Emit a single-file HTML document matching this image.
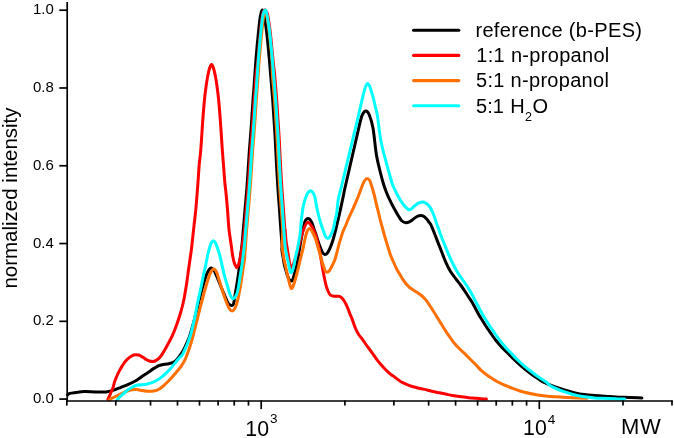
<!DOCTYPE html>
<html><head><meta charset="utf-8"><style>
html,body{margin:0;padding:0;background:#fff;}
body{width:675px;height:438px;overflow:hidden;}
svg{display:block;font-family:"Liberation Sans",sans-serif;will-change:transform;}
</style></head><body>
<svg width="675" height="438" viewBox="0 0 675 438">
<rect width="675" height="438" fill="#fff"/>
<g fill="none" stroke-width="3.0" stroke-linejoin="round" stroke-linecap="round">
<path d="M67.60 394.90C67.98 394.65 68.52 393.80 69.90 393.40C71.28 393.00 73.53 392.80 75.90 392.50C78.27 392.20 80.92 391.70 84.10 391.60C87.28 391.50 91.68 391.82 95.00 391.90C98.32 391.98 101.83 392.15 104.00 392.10C106.17 392.05 106.25 391.97 108.00 391.60C109.75 391.23 112.33 390.62 114.50 389.90C116.67 389.18 118.60 388.27 121.00 387.30C123.40 386.33 126.28 385.28 128.90 384.10C131.52 382.92 134.32 381.62 136.70 380.20C139.08 378.78 141.32 376.88 143.20 375.60C145.08 374.32 146.22 373.70 148.00 372.50C149.78 371.30 151.90 369.62 153.90 368.40C155.90 367.18 157.50 365.98 160.00 365.20C162.50 364.42 166.43 364.32 168.90 363.70C171.37 363.08 173.07 362.73 174.80 361.50C176.53 360.27 177.82 358.28 179.30 356.30C180.78 354.32 182.35 352.07 183.70 349.60C185.05 347.13 186.40 343.77 187.40 341.50C188.40 339.23 188.68 339.08 189.70 336.00C190.72 332.92 192.27 327.48 193.50 323.00C194.73 318.52 195.93 313.77 197.10 309.10C198.27 304.43 199.43 299.18 200.50 295.00C201.57 290.82 202.42 287.58 203.50 284.00C204.58 280.42 205.73 276.17 207.00 273.50C208.27 270.83 209.93 268.50 211.10 268.00C212.27 267.50 213.05 269.08 214.00 270.50C214.95 271.92 215.42 273.28 216.80 276.50C218.18 279.72 220.40 285.35 222.30 289.80C224.20 294.25 226.58 300.60 228.20 303.20C229.82 305.80 231.10 305.33 232.00 305.40C232.90 305.47 233.03 305.67 233.60 303.60C234.17 301.53 234.78 296.68 235.40 293.00C236.02 289.32 236.70 285.33 237.30 281.50C237.90 277.67 238.50 273.92 239.00 270.00C239.50 266.08 239.80 262.17 240.30 258.00C240.80 253.83 241.50 249.67 242.00 245.00C242.50 240.33 242.80 235.83 243.30 230.00C243.80 224.17 244.50 215.83 245.00 210.00C245.50 204.17 245.95 199.17 246.30 195.00C246.65 190.83 246.80 189.17 247.10 185.00C247.40 180.83 247.72 175.83 248.10 170.00C248.48 164.17 248.98 155.83 249.40 150.00C249.82 144.17 250.22 140.00 250.60 135.00C250.98 130.00 251.30 125.83 251.70 120.00C252.10 114.17 252.65 105.00 253.00 100.00C253.35 95.00 253.49 94.17 253.80 90.00C254.11 85.83 254.50 80.00 254.85 75.00C255.20 70.00 255.51 65.00 255.90 60.00C256.29 55.00 256.73 50.00 257.20 45.00C257.67 40.00 258.27 34.17 258.70 30.00C259.13 25.83 259.43 22.75 259.80 20.00C260.17 17.25 260.48 15.15 260.90 13.50C261.32 11.85 261.83 10.10 262.30 10.10C262.77 10.10 263.27 11.85 263.70 13.50C264.13 15.15 264.45 17.25 264.90 20.00C265.35 22.75 265.88 25.83 266.40 30.00C266.92 34.17 267.50 40.00 268.00 45.00C268.50 50.00 268.96 55.00 269.40 60.00C269.84 65.00 270.22 70.00 270.64 75.00C271.05 80.00 271.53 85.83 271.88 90.00C272.22 94.17 272.34 95.00 272.70 100.00C273.06 105.00 273.63 114.17 274.01 120.00C274.40 125.83 274.71 130.00 275.00 135.00C275.29 140.00 275.47 144.17 275.77 150.00C276.07 155.83 276.48 164.17 276.80 170.00C277.12 175.83 277.44 180.83 277.70 185.00C277.96 189.17 278.07 190.83 278.38 195.00C278.68 199.17 279.09 204.17 279.50 210.00C279.91 215.83 280.45 224.17 280.86 230.00C281.28 235.83 281.84 241.67 282.01 245.00C282.18 248.33 281.70 247.83 281.90 250.00C282.10 252.17 282.78 255.50 283.20 258.00C283.62 260.50 283.97 263.00 284.40 265.00C284.83 267.00 285.27 268.17 285.80 270.00C286.33 271.83 287.02 274.40 287.60 276.00C288.18 277.60 288.72 278.75 289.30 279.60C289.88 280.45 290.52 281.15 291.10 281.10C291.68 281.05 292.20 280.68 292.80 279.30C293.40 277.92 294.00 275.32 294.70 272.80C295.40 270.28 295.95 269.67 297.00 264.20C298.05 258.73 299.70 247.03 301.00 240.00C302.30 232.97 303.57 225.58 304.80 222.00C306.03 218.42 307.28 218.50 308.40 218.50C309.52 218.50 310.38 219.73 311.50 222.00C312.62 224.27 313.73 228.13 315.10 232.10C316.47 236.07 318.47 242.40 319.70 245.80C320.93 249.20 321.65 251.07 322.50 252.50C323.35 253.93 323.97 254.32 324.80 254.40C325.63 254.48 326.63 254.05 327.50 253.00C328.37 251.95 329.08 250.27 330.00 248.10C330.92 245.93 332.05 243.05 333.00 240.00C333.95 236.95 334.67 233.97 335.70 229.80C336.73 225.63 338.07 219.97 339.20 215.00C340.33 210.03 341.62 204.17 342.50 200.00C343.38 195.83 343.78 193.33 344.50 190.00C345.22 186.67 346.03 183.33 346.80 180.00C347.57 176.67 348.33 173.33 349.10 170.00C349.87 166.67 350.63 163.33 351.40 160.00C352.17 156.67 352.93 153.33 353.70 150.00C354.47 146.67 355.23 143.33 356.00 140.00C356.77 136.67 357.57 133.17 358.30 130.00C359.03 126.83 359.70 123.58 360.40 121.00C361.10 118.42 361.58 116.15 362.50 114.50C363.42 112.85 364.77 111.02 365.90 111.10C367.03 111.18 368.12 112.18 369.30 115.00C370.48 117.82 371.82 121.38 373.00 128.00C374.18 134.62 375.23 147.53 376.40 154.70C377.57 161.87 378.77 165.95 380.00 171.00C381.23 176.05 382.55 181.00 383.80 185.00C385.05 189.00 386.27 192.03 387.50 195.00C388.73 197.97 389.95 200.30 391.20 202.80C392.45 205.30 393.77 207.77 395.00 210.00C396.23 212.23 397.43 214.37 398.60 216.20C399.77 218.03 400.77 219.90 402.00 221.00C403.23 222.10 404.67 222.72 406.00 222.80C407.33 222.88 408.77 222.12 410.00 221.50C411.23 220.88 412.23 219.93 413.40 219.10C414.57 218.27 415.77 217.12 417.00 216.50C418.23 215.88 419.63 215.40 420.80 215.40C421.97 215.40 423.02 215.88 424.00 216.50C424.98 217.12 425.95 218.27 426.70 219.10C427.45 219.93 427.82 220.57 428.50 221.50C429.18 222.43 429.80 222.70 430.80 224.70C431.80 226.70 433.20 230.27 434.50 233.50C435.80 236.73 437.27 240.68 438.60 244.10C439.93 247.52 441.22 250.78 442.50 254.00C443.78 257.22 444.97 260.48 446.30 263.40C447.63 266.32 448.88 268.90 450.50 271.50C452.12 274.10 454.25 276.67 456.00 279.00C457.75 281.33 459.38 283.25 461.00 285.50C462.62 287.75 464.37 290.50 465.70 292.50C467.03 294.50 467.95 295.92 469.00 297.50C470.05 299.08 470.92 300.17 472.00 302.00C473.08 303.83 474.33 306.33 475.50 308.50C476.67 310.67 477.85 313.00 479.00 315.00C480.15 317.00 481.32 318.75 482.40 320.50C483.48 322.25 484.47 323.92 485.50 325.50C486.53 327.08 487.52 328.42 488.60 330.00C489.68 331.58 490.83 333.33 492.00 335.00C493.17 336.67 494.00 338.00 495.60 340.00C497.20 342.00 499.63 344.87 501.60 347.00C503.57 349.13 505.33 350.72 507.40 352.80C509.47 354.88 511.73 357.33 514.00 359.50C516.27 361.67 518.67 363.80 521.00 365.80C523.33 367.80 525.67 369.68 528.00 371.50C530.33 373.32 532.48 374.95 535.00 376.70C537.52 378.45 540.60 380.65 543.10 382.00C545.60 383.35 547.18 383.73 550.00 384.80C552.82 385.87 556.67 387.28 560.00 388.40C563.33 389.52 566.73 390.58 570.00 391.50C573.27 392.42 575.53 393.25 579.60 393.90C583.67 394.55 589.45 394.98 594.40 395.40C599.35 395.82 604.37 396.08 609.30 396.40C614.23 396.72 618.57 397.05 624.00 397.30C629.43 397.55 638.92 397.80 641.90 397.90" stroke="#000000"/>
<path d="M107.90 399.30C108.32 398.38 109.57 395.68 110.40 393.80C111.23 391.92 112.18 390.05 112.90 388.00C113.62 385.95 114.00 383.58 114.70 381.50C115.40 379.42 116.30 377.32 117.10 375.50C117.90 373.68 118.72 372.08 119.50 370.60C120.28 369.12 120.93 368.00 121.80 366.60C122.67 365.20 123.72 363.48 124.70 362.20C125.68 360.92 126.62 359.90 127.70 358.90C128.78 357.90 130.00 356.90 131.20 356.20C132.40 355.50 133.68 354.90 134.90 354.70C136.12 354.50 137.48 354.75 138.50 355.00C139.52 355.25 140.17 355.77 141.00 356.20C141.83 356.63 142.58 357.00 143.50 357.60C144.42 358.20 145.50 359.23 146.50 359.80C147.50 360.37 148.52 360.72 149.50 361.00C150.48 361.28 151.48 361.50 152.40 361.50C153.32 361.50 154.15 361.33 155.00 361.00C155.85 360.67 156.67 360.13 157.50 359.50C158.33 358.87 159.18 358.13 160.00 357.20C160.82 356.27 161.57 355.18 162.40 353.90C163.23 352.62 164.07 351.15 165.00 349.50C165.93 347.85 166.97 345.92 168.00 344.00C169.03 342.08 170.12 340.25 171.20 338.00C172.28 335.75 173.43 333.17 174.50 330.50C175.57 327.83 176.65 324.75 177.60 322.00C178.55 319.25 179.40 316.67 180.20 314.00C181.00 311.33 181.73 308.67 182.40 306.00C183.07 303.33 183.67 300.67 184.20 298.00C184.73 295.33 185.13 292.83 185.60 290.00C186.07 287.17 186.57 284.00 187.00 281.00C187.43 278.00 187.67 275.83 188.20 272.00C188.73 268.17 189.63 262.00 190.20 258.00C190.77 254.00 190.95 253.53 191.60 248.00C192.25 242.47 193.40 231.18 194.10 224.80C194.80 218.42 195.18 216.33 195.80 209.70C196.42 203.07 197.23 192.45 197.80 185.00C198.37 177.55 198.70 170.88 199.20 165.00C199.70 159.12 200.20 157.20 200.80 149.70C201.40 142.20 202.18 128.37 202.80 120.00C203.42 111.63 203.97 105.00 204.50 99.50C205.03 94.00 205.50 90.70 206.00 87.00C206.50 83.30 206.92 80.38 207.50 77.30C208.08 74.22 208.82 70.62 209.50 68.50C210.18 66.38 210.92 64.60 211.60 64.60C212.28 64.60 212.93 66.38 213.60 68.50C214.27 70.62 215.02 74.22 215.60 77.30C216.18 80.38 216.60 83.30 217.10 87.00C217.60 90.70 218.07 94.00 218.60 99.50C219.13 105.00 219.68 111.63 220.30 120.00C220.92 128.37 221.77 142.20 222.30 149.70C222.83 157.20 223.08 159.62 223.50 165.00C223.92 170.38 224.35 177.00 224.80 182.00C225.25 187.00 225.75 190.38 226.20 195.00C226.65 199.62 227.03 203.98 227.50 209.70C227.97 215.42 228.38 223.42 229.00 229.30C229.62 235.18 230.58 240.55 231.20 245.00C231.82 249.45 232.15 252.92 232.70 256.00C233.25 259.08 233.88 261.65 234.50 263.50C235.12 265.35 236.02 266.45 236.40 267.10C236.78 267.75 236.50 267.70 236.80 267.40C237.10 267.10 237.77 266.28 238.20 265.30C238.63 264.32 239.00 263.05 239.40 261.50C239.80 259.95 240.23 257.92 240.60 256.00C240.97 254.08 240.95 254.33 241.60 250.00C242.25 245.67 243.73 236.67 244.50 230.00C245.27 223.33 245.70 215.83 246.20 210.00C246.70 204.17 247.15 199.17 247.50 195.00C247.85 190.83 248.00 189.17 248.30 185.00C248.60 180.83 248.92 175.83 249.30 170.00C249.68 164.17 250.18 155.83 250.60 150.00C251.02 144.17 251.42 140.00 251.80 135.00C252.18 130.00 252.50 125.83 252.90 120.00C253.30 114.17 253.85 105.00 254.20 100.00C254.55 95.00 254.69 94.17 255.00 90.00C255.31 85.83 255.57 80.00 256.05 75.00C256.53 70.00 257.38 65.00 257.90 60.00C258.42 55.00 258.73 50.00 259.20 45.00C259.67 40.00 260.27 34.17 260.70 30.00C261.13 25.83 261.43 22.75 261.80 20.00C262.17 17.25 262.43 15.15 262.90 13.50C263.37 11.85 263.87 10.10 264.60 10.10C265.33 10.10 266.65 11.85 267.30 13.50C267.95 15.15 268.05 17.25 268.50 20.00C268.95 22.75 269.48 25.83 270.00 30.00C270.52 34.17 271.10 40.00 271.60 45.00C272.10 50.00 272.49 55.00 273.00 60.00C273.51 65.00 274.16 70.00 274.64 75.00C275.12 80.00 275.53 85.83 275.88 90.00C276.22 94.17 276.34 95.00 276.70 100.00C277.06 105.00 277.63 114.17 278.01 120.00C278.40 125.83 278.71 130.00 279.00 135.00C279.29 140.00 279.47 144.17 279.77 150.00C280.07 155.83 280.48 164.17 280.80 170.00C281.12 175.83 281.44 180.83 281.70 185.00C281.96 189.17 282.07 190.83 282.38 195.00C282.68 199.17 283.09 204.17 283.50 210.00C283.91 215.83 284.58 226.67 284.86 230.00C285.15 233.33 285.03 228.33 285.20 230.00C285.37 231.67 285.57 237.00 285.90 240.00C286.23 243.00 286.80 245.50 287.20 248.00C287.60 250.50 287.97 252.83 288.30 255.00C288.63 257.17 288.88 259.17 289.20 261.00C289.52 262.83 289.87 264.87 290.20 266.00C290.53 267.13 290.80 267.80 291.20 267.80C291.60 267.80 292.05 267.13 292.60 266.00C293.15 264.87 293.85 262.83 294.50 261.00C295.15 259.17 295.87 257.17 296.50 255.00C297.13 252.83 297.68 250.42 298.30 248.00C298.92 245.58 299.62 242.67 300.20 240.50C300.78 238.33 301.20 236.92 301.80 235.00C302.40 233.08 303.10 230.83 303.80 229.00C304.50 227.17 305.25 225.10 306.00 224.00C306.75 222.90 307.38 222.07 308.30 222.40C309.22 222.73 310.38 224.18 311.50 226.00C312.62 227.82 314.03 230.80 315.00 233.30C315.97 235.80 316.58 238.35 317.30 241.00C318.02 243.65 318.73 246.53 319.30 249.20C319.87 251.87 320.22 254.20 320.70 257.00C321.18 259.80 321.65 262.83 322.20 266.00C322.75 269.17 323.37 272.82 324.00 276.00C324.63 279.18 325.33 282.60 326.00 285.10C326.67 287.60 327.32 289.40 328.00 291.00C328.68 292.60 329.27 293.87 330.10 294.70C330.93 295.53 332.10 295.73 333.00 296.00C333.90 296.27 334.58 296.25 335.50 296.30C336.42 296.35 337.58 296.15 338.50 296.30C339.42 296.45 340.17 296.62 341.00 297.20C341.83 297.78 342.75 298.80 343.50 299.80C344.25 300.80 344.83 301.92 345.50 303.20C346.17 304.48 346.77 305.72 347.50 307.50C348.23 309.28 349.17 312.08 349.90 313.90C350.63 315.72 351.22 316.63 351.90 318.40C352.58 320.17 353.27 322.53 354.00 324.50C354.73 326.47 355.47 328.45 356.30 330.20C357.13 331.95 358.00 333.52 359.00 335.00C360.00 336.48 361.13 337.52 362.30 339.10C363.47 340.68 364.77 342.77 366.00 344.50C367.23 346.23 368.45 347.78 369.70 349.50C370.95 351.22 372.27 353.07 373.50 354.80C374.73 356.53 375.93 358.37 377.10 359.90C378.27 361.43 379.35 362.65 380.50 364.00C381.65 365.35 382.85 366.78 384.00 368.00C385.15 369.22 386.23 370.22 387.40 371.30C388.57 372.38 389.77 373.52 391.00 374.50C392.23 375.48 393.55 376.28 394.80 377.20C396.05 378.12 397.27 379.13 398.50 380.00C399.73 380.87 400.35 381.47 402.20 382.40C404.05 383.33 407.13 384.72 409.60 385.60C412.07 386.48 414.53 387.07 417.00 387.70C419.47 388.33 421.93 388.82 424.40 389.40C426.87 389.98 429.32 390.63 431.80 391.20C434.28 391.77 436.82 392.28 439.30 392.80C441.78 393.32 444.23 393.82 446.70 394.30C449.17 394.78 451.63 395.28 454.10 395.70C456.57 396.12 459.03 396.47 461.50 396.80C463.97 397.13 466.68 397.47 468.90 397.70C471.12 397.93 472.87 398.03 474.80 398.20C476.73 398.37 478.57 398.55 480.50 398.70C482.43 398.85 485.42 399.03 486.40 399.10" stroke="#ff0000"/>
<path d="M109.30 399.70C109.83 399.42 111.42 398.55 112.50 398.00C113.58 397.45 114.63 396.97 115.80 396.40C116.97 395.83 118.20 395.25 119.50 394.60C120.80 393.95 122.27 393.10 123.60 392.50C124.93 391.90 126.18 391.43 127.50 391.00C128.82 390.57 130.32 390.15 131.50 389.90C132.68 389.65 133.68 389.58 134.60 389.50C135.52 389.42 136.10 389.28 137.00 389.40C137.90 389.52 138.67 389.95 140.00 390.20C141.33 390.45 143.58 390.73 145.00 390.90C146.42 391.07 147.35 391.13 148.50 391.20C149.65 391.27 150.82 391.37 151.90 391.30C152.98 391.23 154.02 391.05 155.00 390.80C155.98 390.55 156.83 390.27 157.80 389.80C158.77 389.33 159.82 388.70 160.80 388.00C161.78 387.30 162.62 386.57 163.70 385.60C164.78 384.63 166.10 383.38 167.30 382.20C168.50 381.02 169.62 379.90 170.90 378.50C172.18 377.10 173.62 375.42 175.00 373.80C176.38 372.18 178.00 370.33 179.20 368.80C180.40 367.27 181.20 366.18 182.20 364.60C183.20 363.02 184.13 361.65 185.20 359.30C186.27 356.95 187.68 353.05 188.60 350.50C189.52 347.95 190.05 346.08 190.70 344.00C191.35 341.92 191.87 340.33 192.50 338.00C193.13 335.67 193.88 332.42 194.50 330.00C195.12 327.58 195.57 326.00 196.20 323.50C196.83 321.00 197.63 317.67 198.30 315.00C198.97 312.33 199.55 310.00 200.20 307.50C200.85 305.00 201.48 302.70 202.20 300.00C202.92 297.30 203.78 293.88 204.50 291.30C205.22 288.72 205.83 286.72 206.50 284.50C207.17 282.28 207.82 280.00 208.50 278.00C209.18 276.00 209.77 274.00 210.60 272.50C211.43 271.00 212.55 269.17 213.50 269.00C214.45 268.83 215.47 270.00 216.30 271.50C217.13 273.00 217.75 275.67 218.50 278.00C219.25 280.33 219.97 282.83 220.80 285.50C221.63 288.17 222.50 291.05 223.50 294.00C224.50 296.95 225.80 300.70 226.80 303.20C227.80 305.70 228.60 307.72 229.50 309.00C230.40 310.28 231.37 310.90 232.20 310.90C233.03 310.90 233.78 310.07 234.50 309.00C235.22 307.93 235.95 306.08 236.50 304.50C237.05 302.92 237.38 301.25 237.80 299.50C238.22 297.75 238.62 295.92 239.00 294.00C239.38 292.08 239.72 290.17 240.10 288.00C240.48 285.83 240.90 283.50 241.30 281.00C241.70 278.50 242.12 275.67 242.50 273.00C242.88 270.33 243.25 267.50 243.60 265.00C243.95 262.50 244.10 263.83 244.60 258.00C245.10 252.17 245.98 238.00 246.60 230.00C247.22 222.00 247.80 215.83 248.30 210.00C248.80 204.17 249.25 199.17 249.60 195.00C249.95 190.83 250.10 189.17 250.40 185.00C250.70 180.83 251.02 175.83 251.40 170.00C251.78 164.17 252.28 155.83 252.70 150.00C253.12 144.17 253.52 140.00 253.90 135.00C254.28 130.00 254.60 125.83 255.00 120.00C255.40 114.17 255.95 105.00 256.30 100.00C256.65 95.00 256.79 94.17 257.10 90.00C257.41 85.83 257.80 80.00 258.15 75.00C258.50 70.00 258.81 65.00 259.20 60.00C259.59 55.00 260.03 50.00 260.50 45.00C260.97 40.00 261.57 34.17 262.00 30.00C262.43 25.83 262.73 22.75 263.10 20.00C263.47 17.25 263.82 15.15 264.20 13.50C264.58 11.85 265.05 10.10 265.40 10.10C265.75 10.10 265.95 11.85 266.30 13.50C266.65 15.15 267.05 17.25 267.50 20.00C267.95 22.75 268.48 25.83 269.00 30.00C269.52 34.17 270.10 40.00 270.60 45.00C271.10 50.00 271.69 55.00 272.00 60.00C272.31 65.00 272.16 70.00 272.44 75.00C272.72 80.00 273.33 85.83 273.68 90.00C274.02 94.17 274.14 95.00 274.50 100.00C274.86 105.00 275.43 114.17 275.81 120.00C276.20 125.83 276.51 130.00 276.80 135.00C277.09 140.00 277.27 144.17 277.57 150.00C277.87 155.83 278.28 164.17 278.60 170.00C278.92 175.83 279.24 180.83 279.50 185.00C279.76 189.17 279.88 190.83 280.18 195.00C280.48 199.17 280.89 204.17 281.30 210.00C281.71 215.83 282.51 224.17 282.66 230.00C282.81 235.83 282.09 240.83 282.20 245.00C282.31 249.17 282.90 252.17 283.30 255.00C283.70 257.83 284.15 259.78 284.60 262.00C285.05 264.22 285.52 266.13 286.00 268.30C286.48 270.47 287.00 272.80 287.50 275.00C288.00 277.20 288.55 279.67 289.00 281.50C289.45 283.33 289.82 284.82 290.20 286.00C290.58 287.18 290.87 288.43 291.30 288.60C291.73 288.77 292.27 288.10 292.80 287.00C293.33 285.90 293.93 283.82 294.50 282.00C295.07 280.18 295.62 278.27 296.20 276.10C296.78 273.93 297.43 271.28 298.00 269.00C298.57 266.72 299.05 264.65 299.60 262.40C300.15 260.15 300.73 257.78 301.30 255.50C301.87 253.22 302.48 250.98 303.00 248.70C303.52 246.42 303.93 244.00 304.40 241.80C304.87 239.60 305.27 237.42 305.80 235.50C306.33 233.58 307.00 231.47 307.60 230.30C308.20 229.13 308.75 228.47 309.40 228.50C310.05 228.53 310.57 229.00 311.50 230.50C312.43 232.00 314.00 235.00 315.00 237.50C316.00 240.00 316.62 242.58 317.50 245.50C318.38 248.42 319.50 252.17 320.30 255.00C321.10 257.83 321.67 260.33 322.30 262.50C322.93 264.67 323.57 266.53 324.10 268.00C324.63 269.47 324.97 270.62 325.50 271.30C326.03 271.98 326.63 272.23 327.30 272.10C327.97 271.97 328.80 271.35 329.50 270.50C330.20 269.65 330.65 268.67 331.50 267.00C332.35 265.33 333.72 262.83 334.60 260.50C335.48 258.17 336.05 255.75 336.80 253.00C337.55 250.25 338.37 246.67 339.10 244.00C339.83 241.33 340.52 239.17 341.20 237.00C341.88 234.83 342.48 232.83 343.20 231.00C343.92 229.17 344.67 227.98 345.50 226.00C346.33 224.02 347.20 221.43 348.20 219.10C349.20 216.77 350.27 214.72 351.50 212.00C352.73 209.28 354.35 205.72 355.60 202.80C356.85 199.88 357.88 197.38 359.00 194.50C360.12 191.62 361.35 187.83 362.30 185.50C363.25 183.17 363.88 181.68 364.70 180.50C365.52 179.32 366.38 178.43 367.20 178.40C368.02 178.37 368.88 179.12 369.60 180.30C370.32 181.48 370.77 183.22 371.50 185.50C372.23 187.78 373.18 190.87 374.00 194.00C374.82 197.13 375.62 201.05 376.40 204.30C377.18 207.55 377.97 210.53 378.70 213.50C379.43 216.47 380.08 219.35 380.80 222.10C381.52 224.85 382.27 227.35 383.00 230.00C383.73 232.65 384.45 235.42 385.20 238.00C385.95 240.58 386.63 242.70 387.50 245.50C388.37 248.30 389.40 252.05 390.40 254.80C391.40 257.55 392.52 259.77 393.50 262.00C394.48 264.23 395.33 266.28 396.30 268.20C397.27 270.12 398.30 271.77 399.30 273.50C400.30 275.23 401.22 276.93 402.30 278.60C403.38 280.27 404.57 282.02 405.80 283.50C407.03 284.98 408.33 286.33 409.70 287.50C411.07 288.67 412.52 289.52 414.00 290.50C415.48 291.48 417.35 292.57 418.60 293.40C419.85 294.23 420.52 294.65 421.50 295.50C422.48 296.35 423.50 297.38 424.50 298.50C425.50 299.62 426.27 300.47 427.50 302.20C428.73 303.93 430.57 306.85 431.90 308.90C433.23 310.95 434.27 312.52 435.50 314.50C436.73 316.48 438.05 318.75 439.30 320.80C440.55 322.85 441.77 324.83 443.00 326.80C444.23 328.77 445.45 330.73 446.70 332.60C447.95 334.47 449.27 336.27 450.50 338.00C451.73 339.73 452.68 341.28 454.10 343.00C455.52 344.72 457.27 346.57 459.00 348.30C460.73 350.03 462.75 351.70 464.50 353.40C466.25 355.10 467.65 356.65 469.50 358.50C471.35 360.35 473.48 362.35 475.60 364.50C477.72 366.65 479.88 369.35 482.20 371.40C484.52 373.45 487.03 375.12 489.50 376.80C491.97 378.48 494.50 380.10 497.00 381.50C499.50 382.90 502.02 384.10 504.50 385.20C506.98 386.30 509.43 387.18 511.90 388.10C514.37 389.02 516.83 389.93 519.30 390.70C521.77 391.47 524.25 392.10 526.70 392.70C529.15 393.30 531.53 393.83 534.00 394.30C536.47 394.77 538.83 395.15 541.50 395.50C544.17 395.85 546.92 396.13 550.00 396.40C553.08 396.67 556.17 396.87 560.00 397.10C563.83 397.33 568.50 397.60 573.00 397.80C577.50 398.00 584.67 398.22 587.00 398.30" stroke="#ff7000"/>
<path d="M117.40 399.70C117.70 399.35 118.60 398.25 119.20 397.60C119.80 396.95 120.25 396.52 121.00 395.80C121.75 395.08 122.82 394.07 123.70 393.30C124.58 392.53 125.33 391.95 126.30 391.20C127.27 390.45 128.42 389.53 129.50 388.80C130.58 388.07 131.72 387.35 132.80 386.80C133.88 386.25 134.92 385.83 136.00 385.50C137.08 385.17 138.63 384.88 139.30 384.80C139.97 384.72 139.05 385.07 140.00 385.00C140.95 384.93 143.58 384.63 145.00 384.40C146.42 384.17 147.35 383.90 148.50 383.60C149.65 383.30 150.73 383.02 151.90 382.60C153.07 382.18 154.32 381.68 155.50 381.10C156.68 380.52 157.83 379.88 159.00 379.10C160.17 378.32 161.32 377.40 162.50 376.40C163.68 375.40 164.90 374.25 166.10 373.10C167.30 371.95 168.52 370.78 169.70 369.50C170.88 368.22 172.10 366.72 173.20 365.40C174.30 364.08 175.30 362.83 176.30 361.60C177.30 360.37 178.20 359.13 179.20 358.00C180.20 356.87 181.30 356.30 182.30 354.80C183.30 353.30 184.37 350.80 185.20 349.00C186.03 347.20 186.67 345.58 187.30 344.00C187.93 342.42 188.43 341.08 189.00 339.50C189.57 337.92 190.10 336.58 190.70 334.50C191.30 332.42 191.92 329.85 192.60 327.00C193.28 324.15 194.10 320.73 194.80 317.40C195.50 314.07 196.12 310.43 196.80 307.00C197.48 303.57 198.12 300.47 198.90 296.80C199.68 293.13 200.73 288.63 201.50 285.00C202.27 281.37 202.83 278.08 203.50 275.00C204.17 271.92 204.80 269.83 205.50 266.50C206.20 263.17 207.00 258.17 207.70 255.00C208.40 251.83 209.07 249.58 209.70 247.50C210.33 245.42 210.88 243.63 211.50 242.50C212.12 241.37 212.77 240.70 213.40 240.70C214.03 240.70 214.65 241.37 215.30 242.50C215.95 243.63 216.57 245.42 217.30 247.50C218.03 249.58 218.87 251.87 219.70 255.00C220.53 258.13 221.47 262.72 222.30 266.30C223.13 269.88 223.88 273.38 224.70 276.50C225.52 279.62 226.40 282.25 227.20 285.00C228.00 287.75 228.78 290.92 229.50 293.00C230.22 295.08 230.93 296.57 231.50 297.50C232.07 298.43 232.62 298.42 232.90 298.60C233.18 298.78 232.88 298.78 233.20 298.60C233.52 298.42 234.28 298.10 234.80 297.50C235.32 296.90 235.85 296.00 236.30 295.00C236.75 294.00 237.08 293.17 237.50 291.50C237.92 289.83 238.38 287.42 238.80 285.00C239.22 282.58 239.60 279.50 240.00 277.00C240.40 274.50 240.77 272.83 241.20 270.00C241.63 267.17 242.07 264.17 242.60 260.00C243.13 255.83 243.88 250.00 244.40 245.00C244.92 240.00 245.20 235.83 245.70 230.00C246.20 224.17 246.90 215.83 247.40 210.00C247.90 204.17 248.35 199.17 248.70 195.00C249.05 190.83 249.20 189.17 249.50 185.00C249.80 180.83 250.12 175.83 250.50 170.00C250.88 164.17 251.38 155.83 251.80 150.00C252.22 144.17 252.62 140.00 253.00 135.00C253.38 130.00 253.70 125.83 254.10 120.00C254.50 114.17 255.05 105.00 255.40 100.00C255.75 95.00 255.89 94.17 256.20 90.00C256.51 85.83 256.90 80.00 257.25 75.00C257.60 70.00 257.91 65.00 258.30 60.00C258.69 55.00 259.13 50.00 259.60 45.00C260.07 40.00 260.67 34.17 261.10 30.00C261.53 25.83 261.83 22.75 262.20 20.00C262.57 17.25 262.77 15.15 263.30 13.50C263.83 11.85 264.83 10.10 265.40 10.10C265.97 10.10 266.28 11.85 266.70 13.50C267.12 15.15 267.45 17.25 267.90 20.00C268.35 22.75 268.88 25.83 269.40 30.00C269.92 34.17 270.50 40.00 271.00 45.00C271.50 50.00 271.96 55.00 272.40 60.00C272.84 65.00 273.22 70.00 273.64 75.00C274.05 80.00 274.53 85.83 274.88 90.00C275.22 94.17 275.34 95.00 275.70 100.00C276.06 105.00 276.63 114.17 277.01 120.00C277.40 125.83 277.71 130.00 278.00 135.00C278.29 140.00 278.47 144.17 278.77 150.00C279.07 155.83 279.48 164.17 279.80 170.00C280.12 175.83 280.44 180.83 280.70 185.00C280.96 189.17 281.07 190.83 281.38 195.00C281.68 199.17 282.09 204.17 282.50 210.00C282.91 215.83 283.45 224.17 283.86 230.00C284.28 235.83 284.71 241.67 285.01 245.00C285.32 248.33 285.32 247.83 285.70 250.00C286.08 252.17 286.82 255.67 287.30 258.00C287.78 260.33 288.20 262.08 288.60 264.00C289.00 265.92 289.35 268.10 289.70 269.50C290.05 270.90 290.32 272.07 290.70 272.40C291.08 272.73 291.57 272.23 292.00 271.50C292.43 270.77 292.88 269.52 293.30 268.00C293.72 266.48 294.05 264.57 294.50 262.40C294.95 260.23 295.50 257.28 296.00 255.00C296.50 252.72 297.02 251.03 297.50 248.70C297.98 246.37 298.48 243.28 298.90 241.00C299.32 238.72 299.55 238.83 300.00 235.00C300.45 231.17 301.02 223.00 301.60 218.00C302.18 213.00 302.73 208.62 303.50 205.00C304.27 201.38 305.37 198.47 306.20 196.30C307.03 194.13 307.73 192.90 308.50 192.00C309.27 191.10 310.03 190.78 310.80 190.90C311.57 191.02 312.38 191.55 313.10 192.70C313.82 193.85 314.53 195.58 315.10 197.80C315.67 200.02 315.93 203.13 316.50 206.00C317.07 208.87 317.83 212.25 318.50 215.00C319.17 217.75 319.73 220.00 320.50 222.50C321.27 225.00 322.30 227.75 323.10 230.00C323.90 232.25 324.57 234.60 325.30 236.00C326.03 237.40 326.77 238.23 327.50 238.40C328.23 238.57 329.03 237.82 329.70 237.00C330.37 236.18 330.88 234.88 331.50 233.50C332.12 232.12 332.82 230.87 333.40 228.70C333.98 226.53 334.47 222.95 335.00 220.50C335.53 218.05 336.07 217.42 336.60 214.00C337.13 210.58 337.53 204.00 338.20 200.00C338.87 196.00 339.80 193.33 340.60 190.00C341.40 186.67 342.20 183.33 343.00 180.00C343.80 176.67 344.60 173.33 345.40 170.00C346.20 166.67 347.00 163.33 347.80 160.00C348.60 156.67 349.40 153.33 350.20 150.00C351.00 146.67 351.80 143.33 352.60 140.00C353.40 136.67 354.20 133.33 355.00 130.00C355.80 126.67 356.63 123.25 357.40 120.00C358.17 116.75 358.87 113.67 359.60 110.50C360.33 107.33 361.12 103.92 361.80 101.00C362.48 98.08 363.10 95.33 363.70 93.00C364.30 90.67 364.75 88.60 365.40 87.00C366.05 85.40 366.87 83.48 367.60 83.40C368.33 83.32 369.17 85.15 369.80 86.50C370.43 87.85 371.00 90.25 371.40 91.50C371.80 92.75 371.90 93.00 372.20 94.00C372.50 95.00 372.70 95.50 373.20 97.50C373.70 99.50 374.52 103.08 375.20 106.00C375.88 108.92 376.73 111.83 377.30 115.00C377.87 118.17 378.12 121.42 378.60 125.00C379.08 128.58 379.58 132.75 380.20 136.50C380.82 140.25 381.47 143.83 382.30 147.50C383.13 151.17 384.22 154.83 385.20 158.50C386.18 162.17 387.32 166.25 388.20 169.50C389.08 172.75 389.75 175.42 390.50 178.00C391.25 180.58 391.75 182.58 392.70 185.00C393.65 187.42 394.97 190.03 396.20 192.50C397.43 194.97 398.77 197.63 400.10 199.80C401.43 201.97 402.80 203.87 404.20 205.50C405.60 207.13 407.27 209.08 408.50 209.60C409.73 210.12 410.55 209.23 411.60 208.60C412.65 207.97 413.65 206.70 414.80 205.80C415.95 204.90 417.13 203.82 418.50 203.20C419.87 202.58 421.75 202.08 423.00 202.10C424.25 202.12 425.02 202.68 426.00 203.30C426.98 203.92 427.98 204.68 428.90 205.80C429.82 206.92 430.70 208.47 431.50 210.00C432.30 211.53 432.78 212.58 433.70 215.00C434.62 217.42 435.87 221.27 437.00 224.50C438.13 227.73 439.25 231.07 440.50 234.40C441.75 237.73 443.20 241.27 444.50 244.50C445.80 247.73 446.88 250.55 448.30 253.80C449.72 257.05 451.38 260.78 453.00 264.00C454.62 267.22 456.25 270.27 458.00 273.10C459.75 275.93 461.73 278.42 463.50 281.00C465.27 283.58 467.22 286.43 468.60 288.60C469.98 290.77 470.77 292.10 471.80 294.00C472.83 295.90 474.12 298.67 474.80 300.00C475.48 301.33 475.13 300.58 475.90 302.00C476.67 303.42 478.23 306.33 479.40 308.50C480.57 310.67 481.75 313.00 482.90 315.00C484.05 317.00 485.22 318.75 486.30 320.50C487.38 322.25 488.37 323.92 489.40 325.50C490.43 327.08 491.42 328.42 492.50 330.00C493.58 331.58 494.73 333.33 495.90 335.00C497.07 336.67 497.95 338.00 499.50 340.00C501.05 342.00 503.34 344.87 505.22 347.00C507.10 349.13 508.80 350.72 510.79 352.80C512.77 354.88 514.90 357.33 517.12 359.50C519.34 361.67 521.77 363.80 524.10 365.80C526.43 367.80 528.77 369.68 531.10 371.50C533.43 373.32 535.58 374.95 538.10 376.70C540.62 378.45 544.22 380.53 546.20 382.00C548.18 383.47 548.20 384.33 550.00 385.50C551.80 386.67 554.53 387.93 557.00 389.00C559.47 390.07 562.30 391.03 564.80 391.90C567.30 392.77 569.53 393.52 572.00 394.20C574.47 394.88 577.10 395.52 579.60 396.00C582.10 396.48 584.53 396.78 587.00 397.10C589.47 397.42 591.93 397.70 594.40 397.90C596.87 398.10 599.32 398.18 601.80 398.30C604.28 398.42 606.77 398.50 609.30 398.60C611.83 398.70 614.42 398.82 617.00 398.90C619.58 398.98 623.50 399.07 624.80 399.10" stroke="#00ffff"/>
</g>
<g stroke="#000" stroke-width="1.7" fill="none">
<line x1="67.2" y1="2" x2="67.2" y2="401.9"/>
<line x1="66.4" y1="401.0" x2="672.8" y2="401.0"/>
<line x1="66.82" y1="400.5" x2="66.82" y2="405.60"/>
<line x1="115.79" y1="400.5" x2="115.79" y2="405.60"/>
<line x1="150.53" y1="400.5" x2="150.53" y2="405.60"/>
<line x1="177.48" y1="400.5" x2="177.48" y2="405.60"/>
<line x1="199.50" y1="400.5" x2="199.50" y2="405.60"/>
<line x1="218.12" y1="400.5" x2="218.12" y2="405.60"/>
<line x1="234.25" y1="400.5" x2="234.25" y2="405.60"/>
<line x1="248.47" y1="400.5" x2="248.47" y2="405.60"/>
<line x1="261.20" y1="400.5" x2="261.20" y2="409.10"/>
<line x1="344.92" y1="400.5" x2="344.92" y2="405.60"/>
<line x1="393.89" y1="400.5" x2="393.89" y2="405.60"/>
<line x1="428.63" y1="400.5" x2="428.63" y2="405.60"/>
<line x1="455.58" y1="400.5" x2="455.58" y2="405.60"/>
<line x1="477.60" y1="400.5" x2="477.60" y2="405.60"/>
<line x1="496.22" y1="400.5" x2="496.22" y2="405.60"/>
<line x1="512.35" y1="400.5" x2="512.35" y2="405.60"/>
<line x1="526.57" y1="400.5" x2="526.57" y2="405.60"/>
<line x1="539.30" y1="400.5" x2="539.30" y2="409.10"/>
<line x1="623.02" y1="400.5" x2="623.02" y2="405.60"/>
<line x1="671.99" y1="400.5" x2="671.99" y2="405.60"/>
<line x1="59.3" y1="399.10" x2="67.2" y2="399.10"/>
<line x1="59.3" y1="321.32" x2="67.2" y2="321.32"/>
<line x1="59.3" y1="243.54" x2="67.2" y2="243.54"/>
<line x1="59.3" y1="165.76" x2="67.2" y2="165.76"/>
<line x1="59.3" y1="87.98" x2="67.2" y2="87.98"/>
<line x1="59.3" y1="10.20" x2="67.2" y2="10.20"/>
</g>
<g font-size="15" fill="#000">
<text x="53.9" y="403.20" text-anchor="end">0.0</text>
<text x="53.9" y="325.42" text-anchor="end">0.2</text>
<text x="53.9" y="247.64" text-anchor="end">0.4</text>
<text x="53.9" y="169.86" text-anchor="end">0.6</text>
<text x="53.9" y="92.08" text-anchor="end">0.8</text>
<text x="53.9" y="14.30" text-anchor="end">1.0</text>
</g>
<g fill="#000">
<text x="245.3" y="435.5" font-size="21.3">10</text><text x="270" y="423.4" font-size="13.5">3</text>
<text x="523.1" y="435.3" font-size="21.3">10</text><text x="547.7" y="423.5" font-size="13.5">4</text>
<text x="621.0" y="434.1" font-size="22" letter-spacing="0.6">MW</text>
<text font-size="20.5" transform="translate(16.9,288.6) rotate(-90)">normalized intensity</text>
</g>
<g stroke-width="3.1" fill="none" stroke-linecap="round">
<line x1="413.6" y1="30.2" x2="458.8" y2="30.2" stroke="#000"/>
<line x1="413.6" y1="55.4" x2="458.8" y2="55.4" stroke="#ff0000"/>
<line x1="413.6" y1="80.6" x2="458.8" y2="80.6" stroke="#ff7000"/>
<line x1="413.6" y1="105.8" x2="458.8" y2="105.8" stroke="#00ffff"/>
</g>
<g font-size="20" fill="#000">
<text x="475.4" y="37.0" letter-spacing="0.34">reference (b-PES)</text>
<text x="476.3" y="62.2" letter-spacing="0.31">1:1 n-propanol</text>
<text x="476.1" y="87.4" letter-spacing="0.29">5:1 n-propanol</text>
<text x="476.1" y="112.6">5:1</text><text x="510.3" y="112.6">H</text><text x="525.1" y="121" font-size="12.5">2</text><text x="532.4" y="112.6">O</text>
</g>
</svg>
</body></html>
